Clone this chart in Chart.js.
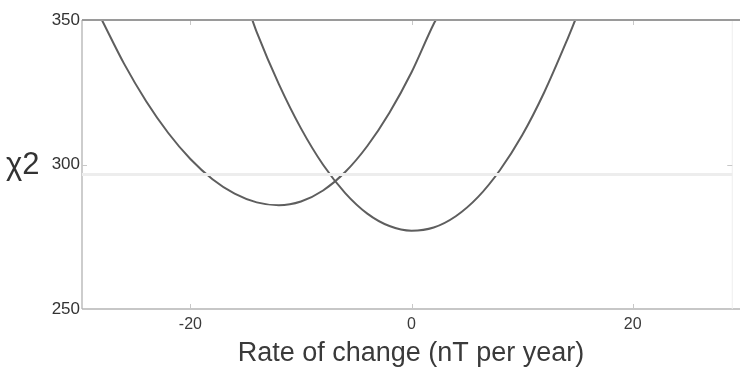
<!DOCTYPE html>
<html>
<head>
<meta charset="utf-8">
<script src="https://cdn.jsdelivr.net/npm/chart.js@4/dist/chart.umd.min.js"></script>
<style>
  html, body { margin: 0; padding: 0; background: #fff; }
  #wrap { width: 740px; height: 373px; position: relative; }
</style>
</head>
<body>
<div id="wrap"><canvas id="c" width="740" height="373"></canvas></div>
<script>
// Rate of change (nT per year) and chi-squared values for the two fits
const rateA = [-28, -26, -24, -22, -20, -18, -16, -14, -12, -10, -8, -6, -4, -2, 0, 2, 2.2];
const chiA  = [350, 334.9, 321.9, 310.9, 301.9, 294.9, 289.9, 286.9, 285.9, 287.2, 291.0, 297.4, 306.4, 317.9, 331.9, 348.6, 350];

const rateB = [-14.4, -14, -12, -10, -8, -6, -4, -2, 0, 2, 4, 6, 8, 10, 12, 14, 14.8];
const chiB  = [350, 345.8, 327.8, 312.5, 299.9, 290.1, 283.0, 278.7, 277.1, 278.2, 282.1, 288.7, 298.1, 310.1, 325.0, 342.5, 350];

// Horizontal reference level
const refRate = [-29.8, 29.0];
const refChi  = [296.5, 296.5];

const xTicks = [-20, 0, 20];
const yTicks = [250, 300, 350];
const xRange = [-29.8, 29.7];
const yRange = [250, 350];

const xTitle = 'Rate of change (nT per year)';
const yTitle = 'χ2';

const FONT = "'Liberation Sans', Arial, sans-serif";

function pts(xs, ys) { return xs.map((x, i) => ({ x: x, y: ys[i] })); }

// Axis frame, inner tick marks and the horizontal axis label
const framePlugin = {
  id: 'frame',
  beforeDatasetsDraw(chart) {
    const { ctx, chartArea: a, scales } = chart;
    ctx.save();
    // left axis
    ctx.strokeStyle = '#bdbdbd';
    ctx.lineWidth = 1.5;
    ctx.beginPath(); ctx.moveTo(a.left, a.top); ctx.lineTo(a.left, a.bottom); ctx.stroke();
    // bottom axis
    ctx.strokeStyle = '#b5b5b5';
    ctx.lineWidth = 1.5;
    ctx.beginPath(); ctx.moveTo(a.left, a.bottom); ctx.lineTo(a.right, a.bottom); ctx.stroke();
    // faint right border
    ctx.strokeStyle = '#eeeeee';
    ctx.lineWidth = 1;
    const rx = scales.x.getPixelForValue(29);
    ctx.beginPath(); ctx.moveTo(rx, a.top); ctx.lineTo(rx, a.bottom); ctx.stroke();
    // inner tick marks
    ctx.strokeStyle = '#c8c8c8';
    ctx.lineWidth = 1;
    xTicks.forEach(v => {
      const px = Math.round(scales.x.getPixelForValue(v)) + 0.5;
      ctx.beginPath(); ctx.moveTo(px, a.bottom); ctx.lineTo(px, a.bottom - 5); ctx.stroke();
      ctx.beginPath(); ctx.moveTo(px, a.top); ctx.lineTo(px, a.top + 5); ctx.stroke();
    });
    yTicks.forEach(v => {
      const py = Math.round(scales.y.getPixelForValue(v)) + 0.5;
      ctx.beginPath(); ctx.moveTo(a.left, py); ctx.lineTo(a.left + 5, py); ctx.stroke();
      ctx.beginPath(); ctx.moveTo(rx, py); ctx.lineTo(rx - 5, py); ctx.stroke();
    });
    ctx.restore();
  },
  afterDatasetsDraw(chart) {
    const { ctx, chartArea: a } = chart;
    ctx.save();
    // top axis line
    ctx.strokeStyle = '#9a9a9a';
    ctx.lineWidth = 2;
    ctx.beginPath(); ctx.moveTo(a.left, a.top); ctx.lineTo(a.right, a.top); ctx.stroke();
    // y label, horizontal
    ctx.fillStyle = '#333';
    ctx.font = '31px ' + FONT;
    ctx.textBaseline = 'alphabetic';
    ctx.textAlign = 'left';
    ctx.fillText(yTitle, 6, 174);
    ctx.restore();
  }
};

new Chart(document.getElementById('c'), {
  type: 'line',
  data: {
    datasets: [
      {
        data: pts(refRate, refChi),
        borderColor: '#ededed',
        borderWidth: 3,
        pointRadius: 0,
        tension: 0
      },
      {
        data: pts(rateA, chiA),
        borderColor: '#5e5e5e',
        borderWidth: 2,
        pointRadius: 0,
        cubicInterpolationMode: 'monotone'
      },
      {
        data: pts(rateB, chiB),
        borderColor: '#5e5e5e',
        borderWidth: 2,
        pointRadius: 0,
        cubicInterpolationMode: 'monotone'
      }
    ]
  },
  options: {
    responsive: false,
    animation: false,
    layout: { padding: { top: 20, right: 0, left: 0, bottom: 0 } },
    plugins: { legend: { display: false }, tooltip: { enabled: false } },
    scales: {
      x: {
        type: 'linear',
        min: xRange[0],
        max: xRange[1],
        afterBuildTicks(s) { s.ticks = xTicks.map(v => ({ value: v })); },
        afterFit(s) { s.height = 64; },
        grid: { display: false, drawTicks: false },
        border: { display: false },
        ticks: {
          color: '#3a3a3a',
          font: { family: FONT, size: 16 },
          padding: 6,
          maxRotation: 0
        },
        title: {
          display: true,
          text: xTitle,
          color: '#3a3a3a',
          font: { family: FONT, size: 27 },
          padding: { top: 0, bottom: 3 }
        }
      },
      y: {
        type: 'linear',
        min: yRange[0],
        max: yRange[1],
        afterBuildTicks(s) { s.ticks = yTicks.map(v => ({ value: v })); },
        afterFit(s) { s.width = 82; },
        grid: { display: false, drawTicks: false },
        border: { display: false },
        ticks: {
          color: '#333',
          font: { family: FONT, size: 17 },
          padding: 2
        }
      }
    }
  },
  plugins: [framePlugin]
});
</script>
</body>
</html>
